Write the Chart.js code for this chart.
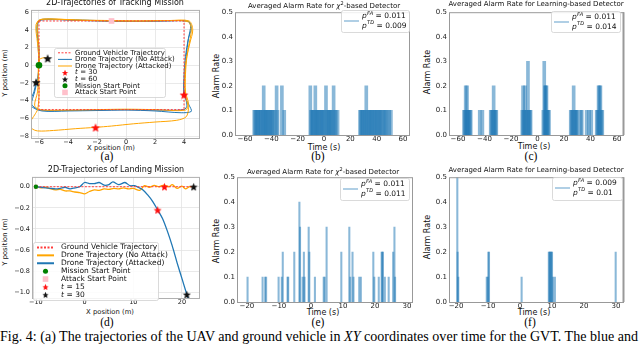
<!DOCTYPE html>
<html>
<head>
<meta charset="utf-8">
<script src="https://cdn.jsdelivr.net/npm/chart.js@4.4.1/dist/chart.umd.min.js"></script>
<style>
  body { margin: 0; background: #fff; width: 640px; height: 345px; overflow: hidden; position: relative; font-family: "DejaVu Sans"; }
  .ttl { position: absolute; white-space: nowrap; transform: translateX(-50%); color: #111; line-height: 1; z-index: 2; }
  .xlab { position: absolute; white-space: nowrap; transform: translate(-50%, -50%); font-size: 8px; color: #111; line-height: 1; }
  .ylab { position: absolute; white-space: nowrap; transform: translate(-50%, -50%) rotate(-90deg); font-size: 8px; color: #111; line-height: 1; }
  .sm { font-size: 6.8px; }
  .sub { position: absolute; font-family: "Liberation Serif"; font-size: 11.5px; transform: translateX(-50%); line-height: 1; }
  #cap { position: absolute; left: 0; top: 329px; font-family: "Liberation Serif"; font-size: 12px; white-space: nowrap; line-height: 1; }
</style>
</head>
<body>
<div class="ttl" style="left:115px;top:-1px;font-size:8px">2D-Trajectories of Tracking Mission</div>
<div class="ttl" style="left:324px;top:1px;font-size:7px">Averaged Alarm Rate for <i>χ</i><sup style="font-size:5px">2</sup>-based Detector</div>
<div class="ttl" style="left:536px;top:1px;font-size:7px">Averaged Alarm Rate for Learning-based Detector</div>
<div class="ttl" style="left:116px;top:166px;font-size:8px">2D-Trajectories of Landing Mission</div>
<div class="ttl" style="left:323px;top:167px;font-size:7px">Averaged Alarm Rate for <i>χ</i><sup style="font-size:5px">2</sup>-based Detector</div>
<div class="ttl" style="left:536px;top:167px;font-size:7px">Averaged Alarm Rate for Learning-based Detector</div>

<div class="xlab sm" style="left:111px;top:148px">X position (m)</div>
<div class="xlab" style="left:324px;top:147.5px">Time (s)</div>
<div class="xlab" style="left:534px;top:147px">Time (s)</div>
<div class="xlab sm" style="left:110px;top:312px">X position (m)</div>
<div class="xlab" style="left:323px;top:313px">Time (s)</div>
<div class="xlab" style="left:534px;top:313px">Time (s)</div>
<div class="ylab sm" style="left:5px;top:73px">Y position (m)</div>
<div class="ylab" style="left:217px;top:76px">Alarm Rate</div>
<div class="ylab" style="left:428px;top:72px">Alarm Rate</div>
<div class="ylab sm" style="left:5px;top:242px">Y position (m)</div>
<div class="ylab" style="left:217px;top:241px">Alarm Rate</div>
<div class="ylab" style="left:428px;top:237px">Alarm Rate</div>

<div class="sub" style="left:107px;top:151px">(a)</div>
<div class="sub" style="left:318px;top:151px">(b)</div>
<div class="sub" style="left:531px;top:151px">(c)</div>
<div class="sub" style="left:107px;top:317px">(d)</div>
<div class="sub" style="left:318px;top:317px">(e)</div>
<div class="sub" style="left:530px;top:317px">(f)</div>
<div id="cap">Fig. 4: (a) The trajectories of the UAV and ground vehicle in <i>XY</i> coordinates over time for the GVT. The blue and</div>

<script>
// ---------- data: (a) tracking mission ----------
var trackGvt = [[-6, 5], [4, 5], [4, -5], [-6, -5], [-6, 5]];
var trackNoAttack = [
  [-6, 0], [-6.05, 2], [-6.1, 4], [-6.0, 5.0], [-5, 5.15], [-3, 5.1], [-1, 5.0], [1, 4.95], [3, 5.0], [4.3, 4.95],
  [4.5, 4.2], [4.3, 3], [4.1, 1], [4.0, -1], [4.0, -3], [4.2, -4.5], [4.0, -5.0], [2, -5.05], [0, -5.0], [-2, -5.05],
  [-4, -5.1], [-5.9, -5.05], [-6.5, -4.4], [-6.3, -3], [-6.1, -1.5], [-6.0, 0], [-6.0, 2], [-6.15, 4.3], [-5.9, 5.15],
  [-4, 5.1], [-2, 5.0], [0, 4.95], [2, 5.0], [4.2, 5.0], [4.45, 4.5], [4.3, 3], [4.15, 1], [4.05, -1], [4.0, -3.3],
  [4.35, -4.5], [4.5, -5.2], [3.8, -5.35], [2, -5.15], [0, -5.05], [-2, -5.1], [-4, -5.15], [-5.8, -5.15],
  [-6.55, -4.6], [-6.6, -4], [-6.35, -3], [-6.2, -1.9]
];
var trackAttacked = [
  [-6, 0], [-6.0, 2], [-6.1, 4], [-6.05, 5.05], [-5, 5.2], [-3, 5.1], [-1, 5.05], [1, 5.0], [3, 5.05], [4.35, 5.0],
  [4.6, 4.0], [4.4, 2.5], [4.2, 1], [4.1, -1], [4.1, -3], [4.3, -4.3], [4.1, -5.05], [2, -5.0], [0, -4.95], [-2, -5.0],
  [-4, -5.05], [-6.0, -5.0], [-6.3, -4.5], [-6.1, -3], [-6.05, -1], [-6.0, 0.5], [-6.1, 2.5], [-6.2, 4.6], [-5.8, 5.2],
  [-3.5, 5.1], [-1, 5.0], [1, 5.0], [3, 5.05], [4.3, 4.9], [4.5, 4], [4.3, 2], [4.1, 0], [4.05, -2], [4.1, -3.5],
  [4.3, -4.8], [4.15, -5.8], [3.5, -6.2], [2, -6.4], [0.5, -6.6], [-1, -6.85], [-2.1, -7.0], [-3.5, -7.15],
  [-5, -7.35], [-6.1, -7.4], [-6.5, -7.1], [-6.55, -6.3], [-6.3, -5.6], [-6.1, -5.0], [-6.0, -3.5], [-6.0, -2],
  [-6.05, -0.5], [-6.0, 0.6], [-5.7, 0.85], [-5.4, 0.8]
];
var trackT30 = [[4, -3.3], [-2.1, -7.0]];
var trackT60 = [[-5.4, 0.8], [-6.2, -1.9]];
var trackStart = [[-6, 0]];
var trackAttackStart = [[-1, 5]];
var trackXTicks = [-6, -4, -2, 0, 2, 4];
var trackYTicks = [-8, -6, -4, -2, 0, 2, 4, 6];

// ---------- data: (d) landing mission ----------
var landGvt = [[-10, 0], [22.5, 0]];
var landNoAttack = [
  [-10, 0], [-9, -0.01], [-8, -0.005], [-7, -0.02], [-6, -0.03], [-5, -0.025], [-4, -0.04], [-3, -0.04], [-2, -0.05],
  [-1, -0.055], [0, -0.068], [1, -0.045], [2, -0.03], [3, -0.035], [4, -0.02], [5, -0.025], [6, -0.015], [7, -0.02],
  [8, -0.01], [9, -0.02], [10, -0.015], [11.3, -0.035], [12.3, 0.01], [13.3, -0.005], [14.3, 0.012], [15.3, 0.0],
  [16.3, 0.015], [17.3, 0.0], [18, 0.02], [19, -0.015], [20, 0.005], [20.7, -0.02], [21.6, 0.0], [22.5, 0.0]
];
var landAttacked = [
  [-10, 0], [-9, -0.005], [-8, -0.01], [-7, -0.015], [-6, -0.02], [-5, -0.015], [-4, -0.005], [-3, -0.02], [-2, -0.01],
  [-1, 0.0], [0, 0.04], [1, 0.03], [2, 0.03], [3, 0.04], [4, 0.015], [5, 0.02], [5.8, 0.045], [7, 0.02], [8.3, 0.04],
  [9.3, 0.01], [10.3, 0.01], [11, -0.005], [12, -0.03], [13, -0.08], [14, -0.14], [15, -0.22], [16, -0.3],
  [17, -0.42], [18, -0.56], [19, -0.72], [20, -0.87], [21, -1.02], [21.3, -1.06]
];
var landStart = [[-10, 0]];
var landAttackStart = [[-10, 0]];
var landT15 = [[15, -0.22], [16.4, 0]];
var landT30 = [[21, -1.02], [22.4, 0]];
var landXTicks = [-10, 0, 10, 20];
var landYTicks = [0, -0.2, -0.4, -0.6, -0.8, -1.0];

// ---------- data: alarm rates ----------
var bTimes = [-53, -52.3, -51.5, -50.5, -50, -49, -48.2, -47.5, -46.5, -45.8, -45, -44.3, -43.5, -42.8, -42, -41, -40.3,
  -39.5, -38.5, -37.5, -36, -35.3, -32, -30.2,
  -10.4, -9.8, -9, -8.3, -7.5, -6.6, -6, -5.2, -4.5, -3.6, -2.8, -2, -1.2, -0.5, 0.3, 1.5, 2.2, 3, 3.8, 4.6, 5.3,
  6.2, 7.3, 8, 9, 10.3,
  27.3, 28, 28.8, 29.6, 30.5, 31.2, 32.1, 33, 33.8, 34.5, 35.5, 36.3, 37, 38, 38.8, 39.6, 40.5, 41.4, 42.2, 43, 44,
  45, 46, 47, 48, 49.5, 50.8];
var bRates = [0.1, 0.1, 0.1, 0.1, 0.1, 0.1, 0.1, 0.1, 0.1, 0.2, 0.1, 0.1, 0.1, 0.1, 0.1, 0.1, 0.1,
  0.1, 0.1, 0.1, 0.2, 0.1, 0.2, 0.1,
  0.2, 0.1, 0.1, 0.1, 0.1, 0.2, 0.1, 0.1, 0.1, 0.1, 0.1, 0.1, 0.1, 0.1, 0.1, 0.2, 0.1, 0.1, 0.1, 0.1, 0.1,
  0.1, 0.2, 0.1, 0.1, 0.1,
  0.1, 0.1, 0.1, 0.1, 0.1, 0.1, 0.2, 0.1, 0.1, 0.1, 0.1, 0.1, 0.1, 0.1, 0.1, 0.1, 0.1, 0.1, 0.1, 0.1, 0.1,
  0.1, 0.1, 0.1, 0.1, 0.1, 0.1];

var cTimes = [-55.5, -54.8, -54.2, -53.5, -53.2, -52.5, -51.8, -51, -50.4, -43.6, -41.6,
  -35.3, -34.6, -33.8, -33.1, -32.4, -31.7, -31.1,
  -11.5, -10.9, -10.2, -9.4, -8.8, -8.1, -7.2, -6.5, -5.8, -5.2,
  4.4, 5.1, 5.7, 6.2, 6.8, 7.4, 8, 8.7,
  25.1, 25.8, 26.5, 27.3, 28, 28.8, 29.5, 30.1, 32.6, 33.4, 37.1, 38.9, 40.6,
  44.7, 45.4, 46.1, 46.8, 47.5, 48.2, 48.9];
var cRates = [0.1, 0.1, 0.2, 0.1, 0.2, 0.1, 0.1, 0.1, 0.1, 0.1, 0.1,
  0.1, 0.1, 0.1, 0.2, 0.1, 0.1, 0.1,
  0.1, 0.2, 0.1, 0.2, 0.1, 0.1, 0.3, 0.1, 0.1, 0.1,
  0.1, 0.3, 0.2, 0.2, 0.2, 0.1, 0.1, 0.1,
  0.1, 0.1, 0.1, 0.2, 0.1, 0.1, 0.1, 0.1, 0.1, 0.1, 0.1, 0.1, 0.1,
  0.1, 0.1, 0.2, 0.2, 0.2, 0.1, 0.1];

var eTimes = [-19.8, -15.1, -14.3, -14.0, -10.1, -9.1, -8.8, -7.3, -7.1, -5.2, -3.6, -3.4, -2.6, -2.2, -2.0,
  -0.7, -0.5, 1.25, 4.0, 4.3, 4.9, 9.5, 12.0, 12.3, 13.0, 13.3, 15.1, 15.6, 19.5, 19.8, 21.2, 22.1, 22.3, 22.5,
  23.1, 24.3, 25.7, 26.1, 26.3];
var eRates = [0.1, 0.1, 0.1, 0.1, 0.1, 0.1, 0.2, 0.1, 0.1, 0.2, 0.4, 0.3, 0.1, 0.2, 0.1,
  0.3, 0.2, 0.1, 0.1, 0.1, 0.3, 0.2, 0.3, 0.1, 0.2, 0.1, 0.1, 0.1, 0.2, 0.1, 0.1, 0.2, 0.2, 0.2,
  0.1, 0.1, 0.2, 0.3, 0.1];

var fTimes = [-19.6, -19.5, -19.3, -10.4, -10.1, -9.9, -9.7, 0.5, 9.0, 9.2, 9.4, 9.6, 9.8, 10.0, 10.3, 10.9, 29.9];
var fRates = [0.5, 0.2, 0.1, 0.1, 0.1, 0.2, 0.2, 0.1, 0.2, 0.2, 0.2, 0.2, 0.2, 0.2, 0.1, 0.1, 0.2];

var pFA = [0.011, 0.011, 0.011, 0.009];   // b, c, e, f
var pTD = [0.009, 0.014, 0.011, 0.01];
var wideTicks = [-60, -40, -20, 0, 20, 40, 60];
var shortTicks = [-20, -10, 0, 10, 20, 30];
var rateTicks = [0, 0.1, 0.2, 0.3, 0.4, 0.5];

// ---------- helpers ----------
var FONT = 'DejaVu Sans';
var BLUE = '#1f77b4';
var ORANGE = '#ffa500';
var GVT_RED = '#ff3b3b';
var BAR_FILL = 'rgba(31,119,180,0.52)';

function pts(list) {
  return list.map(function(p) { return { x: p[0], y: p[1] }; });
}

function fmtInt(v) { return String(v).replace('-', '\u2212'); }
function fmt1(v) { return (Math.abs(v) < 1e-9 ? 0 : v).toFixed(1).replace('-', '\u2212'); }

function starImg(color, size) {
  var c = document.createElement('canvas');
  c.width = size; c.height = size;
  var g = c.getContext('2d');
  var r = size / 2, ri = r * 0.42;
  g.beginPath();
  for (var i = 0; i < 10; i++) {
    var rad = i % 2 ? ri : r - 0.3;
    var a = -Math.PI / 2 + i * Math.PI / 5;
    g.lineTo(r + rad * Math.cos(a), r + rad * Math.sin(a) + size * 0.06);
  }
  g.closePath();
  g.fillStyle = color;
  g.fill();
  return c;
}

function drawRich(ctx, text, x, y, fs) {
  var base = fs + 'px "' + FONT + '"';
  var m = /^([a-z])(\^(\w+))?( .*)$/.exec(text);
  if (!m) { ctx.font = base; ctx.fillText(text, x, y); return; }
  ctx.font = 'italic ' + base;
  ctx.fillText(m[1], x, y);
  x += ctx.measureText(m[1]).width + 0.3;
  if (m[3]) {
    ctx.font = 'italic ' + (fs * 0.68) + 'px "' + FONT + '"';
    ctx.fillText(m[3], x, y - fs * 0.38);
    x += ctx.measureText(m[3]).width;
  }
  ctx.font = base;
  ctx.fillText(m[4], x, y);
}

// legend box drawn inside the plot, like matplotlib
var boxLegend = {
  id: 'boxLegend',
  afterDraw: function(chart, args, o) {
    if (!o || !o.w) return;
    var ctx = chart.ctx;
    var ox = o.x - chart.canvas.offsetLeft, oy = o.y - chart.canvas.offsetTop;
    ctx.save();
    ctx.beginPath();
    ctx.roundRect(ox + 0.5, oy + 0.5, o.w, o.h, 2);
    ctx.fillStyle = 'rgba(255,255,255,0.85)';
    ctx.fill();
    ctx.strokeStyle = '#d0d0d0';
    ctx.lineWidth = 0.8;
    ctx.stroke();
    ctx.textBaseline = 'middle';
    ctx.fillStyle = '#111';
    var items = chart.data.datasets.filter(function(d) { return d.label; });
    var row = 0;
    items.forEach(function(d) {
      var lines = d.label.split('\n');
      var cy = oy + o.pad + o.row * (row + lines.length / 2);
      var sx = ox + o.sx, sw = o.sw;
      if (d.showLine || d.type === 'bar') {
        ctx.save();
        ctx.beginPath();
        ctx.setLineDash(d.borderDash || []);
        ctx.strokeStyle = d.type === 'bar' ? 'rgba(31,119,180,0.55)' : d.borderColor;
        ctx.lineWidth = o.lw;
        ctx.moveTo(sx, cy); ctx.lineTo(sx + sw, cy);
        ctx.stroke();
        ctx.restore();
      } else {
        var mx = sx + sw / 2, ms = o.ms;
        if (typeof d.pointStyle === 'object') {
          ctx.drawImage(d.pointStyle, mx - ms / 2, cy - ms / 2, ms, ms);
        } else if (d.pointStyle === 'rect') {
          ctx.fillStyle = d.backgroundColor;
          ctx.fillRect(mx - ms * 0.4, cy - ms * 0.4, ms * 0.8, ms * 0.8);
        } else {
          ctx.fillStyle = d.backgroundColor;
          ctx.beginPath(); ctx.arc(mx, cy, ms * 0.36, 0, Math.PI * 2); ctx.fill();
        }
      }
      ctx.fillStyle = '#111';
      lines.forEach(function(t, k) {
        drawRich(ctx, t, ox + o.tx, oy + o.pad + o.row * (row + k + 0.5), o.fs);
      });
      row += lines.length;
    });
    ctx.restore();
  }
};

// full box around the plot area
var frame = {
  id: 'frame',
  afterDatasetsDraw: function(chart, args, o) {
    var a = chart.chartArea, ctx = chart.ctx;
    ctx.save();
    ctx.strokeStyle = o.color || '#999';
    ctx.lineWidth = 1;
    ctx.strokeRect(a.left + 0.5, a.top + 0.5, a.right - a.left - 1, a.bottom - a.top);
    if (o.right) {
      ctx.lineWidth = o.right;
      ctx.beginPath();
      ctx.moveTo(a.right - 0.5, a.top); ctx.lineTo(a.right - 0.5, a.bottom);
      ctx.stroke();
    }
    ctx.restore();
  }
};

function makeCanvas(area, yW, xH, padT, padR) {
  var c = document.createElement('canvas');
  var left = area.l - yW, top = area.t - padT;
  var w = area.r + padR - left, h = area.b + xH - top;
  c.width = w; c.height = h;
  c.style.cssText = 'position:absolute;left:' + left + 'px;top:' + top + 'px;width:' + w + 'px;height:' + h + 'px';
  document.body.appendChild(c);
  return c;
}

function axis(tickList, min, max, fmt, showGrid, pad, size) {
  return {
    type: 'linear', min: min, max: max,
    afterBuildTicks: function(s) { s.ticks = tickList.map(function(v) { return { value: v }; }); },
    ticks: { font: { family: FONT, size: size }, color: '#1a1a1a', padding: pad, autoSkip: false, maxRotation: 0, callback: fmt },
    grid: { display: showGrid, color: '#e3e3e3', lineWidth: 0.8, drawTicks: false, offset: false },
    border: { display: false },
    offset: false,
    title: { display: false }
  };
}

function baseOptions(yW, xH, padT, padR, xs, ys, plugins) {
  xs.afterFit = function(s) { s.height = xH; };
  ys.afterFit = function(s) { s.width = yW; };
  return {
    responsive: false, animation: false, events: [],
    layout: { padding: { top: padT, right: padR, left: 0, bottom: 0 } },
    scales: { x: xs, y: ys },
    plugins: Object.assign({ legend: { display: false }, tooltip: { enabled: false }, title: { display: false } }, plugins)
  };
}

function lineSet(label, list, color, width, dash, order, tension) {
  return { label: label, data: pts(list), showLine: true, borderColor: color, borderWidth: width,
    borderDash: dash || [], pointRadius: 0, tension: tension, order: order, fill: false };
}
function markSet(label, list, style, color, radius, order) {
  return { label: label, data: pts(list), showLine: false, pointStyle: style, backgroundColor: color,
    borderColor: color, borderWidth: 0, pointRadius: radius, order: order };
}

// ---------- (a) ----------
(function() {
  var area = { l: 31, t: 7, r: 200, b: 138 };
  var c = makeCanvas(area, 31, 9, 3, 5);
  new Chart(c, {
    type: 'scatter',
    data: { datasets: [
      lineSet('Ground Vehicle Trajectory', trackGvt, GVT_RED, 1, [2, 1.5], 1, 0),
      lineSet('Drone Trajectory (No Attack)', trackNoAttack, BLUE, 1, null, 3, 0.3),
      lineSet('Drone Trajectory (Attacked)', trackAttacked, ORANGE, 1, null, 2, 0.3),
      markSet('t = 30', trackT30, starImg('#ff1010', 10), '#ff1010', 5, 0),
      markSet('t = 60', trackT60, starImg('#111', 10), '#111', 5, 0),
      markSet('Mission Start Point', trackStart, 'circle', '#008000', 3.3, 0),
      markSet('Attack Start Point', trackAttackStart, 'rect', '#ffc0cb', 4, 0)
    ] },
    options: baseOptions(31, 9, 3, 5,
      axis(trackXTicks, -6.55, 5.1, fmtInt, true, 0, 6.5),
      axis(trackYTicks, -8.2, 6.25, fmtInt, true, 2, 6.5),
      { frame: { color: '#b0b0b0' },
        boxLegend: { x: 54, y: 48, w: 111, h: 49, pad: 1.5, row: 6.6, sx: 4, sw: 14, tx: 21, fs: 7, lw: 1, ms: 7 } })
  , plugins: [frame, boxLegend] });
})();

// ---------- (d) ----------
(function() {
  var area = { l: 32, t: 174, r: 200, b: 298 };
  var c = makeCanvas(area, 32, 9, 3, 5);
  new Chart(c, {
    type: 'scatter',
    data: { datasets: [
      lineSet('Ground Vehicle Trajectory', landGvt, GVT_RED, 1, [2, 1.5], 1, 0),
      lineSet('Drone Trajectory (No Attack)', landNoAttack, ORANGE, 1.3, null, 3, 0.3),
      lineSet('Drone Trajectory (Attacked)', landAttacked, BLUE, 1.3, null, 2, 0.3),
      markSet('Mission Start Point', landStart, 'circle', '#008000', 2.2, 0),
      markSet('Attack Start Point', landAttackStart, 'rect', '#ffc0cb', 3, 1),
      markSet('t = 15', landT15, starImg('#ff1010', 9), '#ff1010', 5, 0),
      markSet('t = 30', landT30, starImg('#111', 9), '#111', 5, 0)
    ] },
    options: baseOptions(32, 9, 3, 5,
      axis(landXTicks, -10.8, 23.7, fmtInt, true, 0, 6.5),
      axis(landYTicks, -1.053, 0.093, fmt1, true, 2, 6.5),
      { frame: { color: '#b0b0b0' },
        boxLegend: { x: 33, y: 242, w: 125, h: 58, pad: 1.5, row: 7.9, sx: 4, sw: 17, tx: 28, fs: 7.5, lw: 2, ms: 7 } })
  , plugins: [frame, boxLegend] });
})();

// ---------- alarm rate panels ----------
function alarmPanel(area, yW, times, rates, k, xTicks, xmin, xmax, leg, thick, rightW) {
  var c = makeCanvas(area, yW, 9, 3, 4);
  var label = 'p^FA = ' + pFA[k] + '\np^TD = ' + pTD[k];
  new Chart(c, {
    type: 'bar',
    data: { datasets: [{
      type: 'bar', label: label,
      data: times.map(function(t, i) { return { x: t, y: rates[i] }; }),
      backgroundColor: BAR_FILL, borderWidth: 0, barThickness: thick, grouped: false
    }] },
    options: baseOptions(yW, 9, 3, 4,
      axis(xTicks, xmin, xmax, fmtInt, false, 0, 7),
      axis(rateTicks, 0, 0.5, fmt1, false, 2, 7),
      { frame: { color: '#999', right: rightW },
        boxLegend: Object.assign({ pad: 1.5, row: 9.5, sx: 3, sw: 15, tx: 21, fs: 7.5, lw: 1.3, ms: 6 }, leg) })
  , plugins: [frame, boxLegend] });
}

alarmPanel({ l: 235, t: 9, r: 410, b: 135 }, 24, bTimes, bRates, 0, wideTicks, -67.6, 65.3,
  { x: 341, y: 10, w: 68, h: 22 }, 3, 0);
alarmPanel({ l: 449, t: 9, r: 624, b: 135 }, 25, cTimes, cRates, 1, wideTicks, -66.8, 65.3,
  { x: 551, y: 11, w: 69, h: 21 }, 3, 2);
alarmPanel({ l: 237, t: 174, r: 413, b: 302 }, 26, eTimes, eRates, 2, shortTicks, -23.1, 31.9,
  { x: 340, y: 178, w: 69, h: 22 }, 1.4, 0);
alarmPanel({ l: 449, t: 174, r: 624, b: 302 }, 25, fTimes, fRates, 3, shortTicks, -22.2, 32.5,
  { x: 552, y: 177, w: 70, h: 23 }, 1.4, 2);

// fit caption to page width
var cap = document.getElementById('cap');
cap.style.fontSize = (12 * 638 / cap.offsetWidth) + 'px';
</script>
</body>
</html>
